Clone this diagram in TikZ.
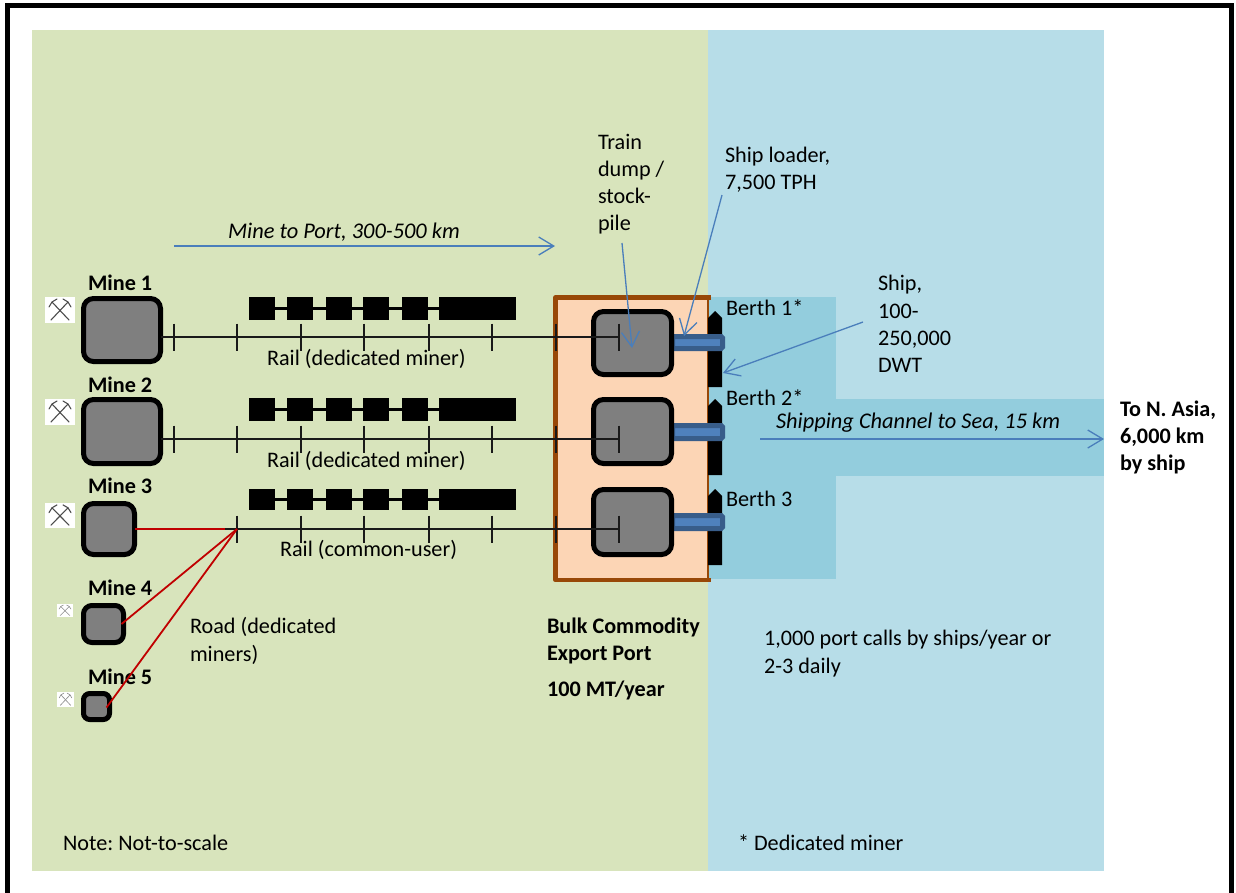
\documentclass[tikz,border=0pt]{standalone}
\usepackage{fontspec}
\setmainfont{Carlito}
\usetikzlibrary{arrows.meta}
\definecolor{land}{HTML}{D8E4BC}
\definecolor{sea}{HTML}{B7DDE8}
\definecolor{deep}{HTML}{93CDDD}
\definecolor{portfill}{HTML}{FCD5B5}
\definecolor{portedge}{HTML}{984807}
\definecolor{belt}{HTML}{4F81BD}
\definecolor{beltedge}{HTML}{385D8A}
\definecolor{arrowblue}{HTML}{4A7EBB}
\definecolor{roadred}{HTML}{C00000}
\definecolor{rockgrey}{HTML}{7F7F7F}
\tikzset{
 lbl/.style={inner sep=0pt,outer sep=0pt,anchor=west,align=left,text=black,font=\fontsize{22.2}{27.2}\selectfont\frenchspacing},
 blbl/.style={lbl,font=\fontsize{22.2}{27.2}\selectfont\bfseries\frenchspacing},
 ilbl/.style={lbl,font=\fontsize{22.4}{27.2}\selectfont\itshape\frenchspacing},
 rockbox/.style={draw=black,fill=rockgrey,line width=5pt,inner sep=0pt,outer sep=0pt},
 railline/.style={draw=black!90,line width=1.6pt},
 tick/.style={draw=black!90,line width=1.4pt},
 roadline/.style={draw=roadred,line width=1.8pt},
 callout/.style={draw=arrowblue,line width=1.3pt,-{Straight Barb[length=15pt,width=18pt,line width=1.3pt]}},
 wagon/.style={fill=black,draw=none,inner sep=0pt,outer sep=0pt},
 beltbox/.style={draw=beltedge,fill=belt,line width=5pt,rounded corners=1.5pt,inner sep=0pt,outer sep=0pt},
 iconbg/.style={fill=white,draw=none,inner sep=0pt,outer sep=0pt},
}
\newcommand{\boxat}[5]{% name x0 y0 x1 y1 (outer edges)
 \pgfmathsetmacro{\bw}{#4-#2-5}\pgfmathsetmacro{\bh}{#5-#3-5}
 \pgfmathsetmacro{\br}{min(10,0.2*min(#4-#2,#5-#3))}
 \node[rockbox,rounded corners=\br pt,minimum width=\bw pt,minimum height=\bh pt] (#1) at ({(#2+#4)/2},{(#3+#5)/2}) {};}
\newcommand{\hammers}[6]{% name x0 y0 x1 y1 shade
 \pgfmathsetmacro{\iw}{#4-#2}\pgfmathsetmacro{\ih}{#5-#3}
 \node[iconbg,minimum width=\iw pt,minimum height=\ih pt] (#1) at ({(#2+#4)/2},{(#3+#5)/2}) {};
 \begin{scope}[shift={(#1.center)},x=\iw/30*1pt,y=-\ih/26*1pt,line cap=round,draw=#6,line width=\iw/30*1.1pt]
  \draw (-9,10) -- (8,-8);
  \draw (9,10) -- (-8,-8);
  \draw (3,-11) -- (8,-8) -- (11,-3);
  \draw (-3,-11) -- (-8,-8) -- (-11,-3);
 \end{scope}}
\newcommand{\shipat}[3]{% name top bottom
 \fill (708,#3) -- (708,#2+7) -- (715,#2) -- (722,#2+7) -- (722,#3) -- cycle;
 \coordinate (#1) at (715,#2);}
\newcommand{\trainat}[3]{% name top bottom
 \pgfmathsetmacro{\th}{#3-#2}\pgfmathsetmacro{\tm}{(#2+#3)/2}
 \foreach \k/\a/\b in {1/249/275,2/287/313,3/326/352,4/363/389,5/402/428,6/439/516}{
  \pgfmathsetmacro{\tw}{\b-\a}
  \node[wagon,minimum width=\tw pt,minimum height=\th pt] (#1\k) at ({(\a+\b)/2},\tm) {};}
 \foreach \p/\q in {1/2,2/3,3/4,4/5,5/6}{\draw[black,line width=3pt] (#1\p.east) -- (#1\q.west);}}
\begin{document}
\begin{tikzpicture}[x=1pt,y=-1pt]
\useasboundingbox (0,0) rectangle (1236,892);
% frame
\coordinate (fbl) at (7.5,900);\coordinate (ftl) at (7.5,5.5);\coordinate (ftr) at (1231.5,5.5);\coordinate (fbr) at (1231.5,900);
\begin{scope}
\clip (0,0) rectangle (1236,892);
\draw[black,line width=5pt] (fbl) -- (ftl) -- (ftr) -- (fbr);
\end{scope}
% regions
\fill[land] (32,30) rectangle (708,871);
\fill[sea] (708,30) rectangle (1104,871);
\fill[deep] (708,297) rectangle (836,579);
\fill[deep] (836,399) rectangle (1104,476);
% port
\fill[portfill] (555.5,297.5) rectangle (708,580);
\draw[portedge,line width=1.5pt] (708,297.5) -- (708,580);
\draw[portedge,line width=4.5pt,line join=round] (711,297.5) -- (555.5,297.5) -- (555.5,580) -- (711,580);
% ships
\shipat{ship1}{311}{387}
\shipat{ship2}{399}{475}
\shipat{ship3}{489}{565}
% ship loaders
\node[beltbox,minimum width=50pt,minimum height=12pt] (belt1) at (697.5,342.5) {};
\node[beltbox,minimum width=50pt,minimum height=13pt] (belt2) at (697.5,432) {};
\node[beltbox,minimum width=50pt,minimum height=13pt] (belt3) at (697.5,522) {};
% boxes
\boxat{mine1}{81}{296}{163}{364}
\boxat{mine2}{81}{397}{163}{466}
\boxat{mine3}{81}{501}{137}{557}
\boxat{mine4}{81}{603}{126}{645}
\boxat{mine5}{81}{691}{112}{722}
\boxat{store1}{591}{309}{674}{377}
\boxat{store2}{591}{397}{674}{466}
\boxat{store3}{591}{487}{674}{557}
% icons
\hammers{icon1}{45}{297}{75}{323}{black!70}
\hammers{icon2}{45}{399}{75}{425}{black!70}
\hammers{icon3}{45}{503}{75}{528}{black!70}
\hammers{icon4}{57}{604}{73}{617}{black!45}
\hammers{icon5}{57}{692}{74}{707}{black!45}
% trains
\trainat{ta}{297}{320}
\trainat{tb}{398}{421}
\trainat{tc}{489}{510}
% rails
\foreach \r/\y in {1/337,2/439,3/529}{
 \foreach \x in {174,237,301,364,429,492,556,619}{
  \ifnum\r=3 \ifnum\x=174 \else
   \coordinate (t\r a\x) at (\x,\y-13.5);\coordinate (t\r b\x) at (\x,\y+13.5);
   \draw[tick] (t\r a\x) -- (t\r b\x);\fi
  \else
   \coordinate (t\r a\x) at (\x,\y-13.5);\coordinate (t\r b\x) at (\x,\y+13.5);
   \draw[tick] (t\r a\x) -- (t\r b\x);
  \fi}
 \coordinate (rend\r) at (619,\y);}
\coordinate (rs1) at (mine1.east |- rend1);
\coordinate (rs2) at (mine2.east |- rend2);
\coordinate (rs3) at (225,529);
\coordinate (junction) at (237,529);
\draw[railline] (rs1) -- (rend1);
\draw[railline] (rs2) -- (rend2);
\draw[railline] (rs3) -- (rend3);
% labels
\node[blbl] (lm1) at (88,283) {Mine 1};
\node[blbl] (lm2) at (88,385) {Mine 2};
\node[blbl] (lm3) at (88,486) {Mine 3};
\node[blbl] (lm4) at (88,588) {Mine 4};
\node[blbl] (lm5) at (88,677) {Mine 5};
\node[lbl] (lr1) at (267,359) {Rail (dedicated miner)};
\node[lbl] (lr2) at (267,461) {Rail (dedicated miner)};
\node[lbl] (lr3) at (280,550) {Rail (common-user)};
\node[lbl] (lroad) at (190,641) {Road (dedicated\\miners)};
\node[lbl] (ltrain) at (598,184) {Train\\dump /\\stock-\\pile};
\node[lbl] (lloader) at (725,170) {Ship loader,\\7,500 TPH};
\node[ilbl] (lmp) at (228,232) {Mine to Port, 300-500 km};
\coordinate (mpa) at (174,246);\coordinate (mpb) at (555,246);
\node[lbl] (lship) at (878,324) {Ship,\\100-\\250,000\\DWT};
\node[lbl] (lb1) at (726,308) {Berth 1*};
\node[lbl] (lb2) at (726,398) {Berth 2*};
\node[lbl] (lb3) at (726,499) {Berth 3};
\node[ilbl] (lch) at (776,423) {Shipping Channel to Sea, 15 km};
\node[blbl] (lasia) at (1120,437.5) {To N. Asia,\\6,000 km\\by ship};
\node[blbl] (lport) at (547,641) {Bulk Commodity\\Export Port};
\node[blbl] (lmt) at (547,690) {100 MT/year};
\node[lbl] (lcalls) at (764,653.5) {1,000 port calls by ships/year or\\2-3 daily};
\node[lbl] (lnote) at (63,843) {Note: Not-to-scale};
\node[lbl] (lded) at (738,843) {* Dedicated miner};
% roads
\draw[roadline] (mine3.east |- junction) -- (rs3);
\draw[roadline] (mine4.east) ++(-2,0) -- (junction);
\draw[roadline] (mine5.east) ++(-3,1) -- (junction);
% callouts
\coordinate (a1s) at (622,243);\coordinate (a1e) at (632,348);
\coordinate (a2s) at (722,195);\coordinate (a2e) at (684,336);
\coordinate (a3s) at (863,322);\coordinate (a3e) at (723,373);
\coordinate (a4s) at (760,439);\coordinate (a4e) at (1104,439);
\draw[callout] (mpa) -- (mpb);
\draw[callout] (a1s) -- (a1e);
\draw[callout] (a2s) -- (a2e);
\draw[callout] (a3s) -- (a3e);
\draw[callout] (a4s) -- (a4e);
\end{tikzpicture}
\end{document}
